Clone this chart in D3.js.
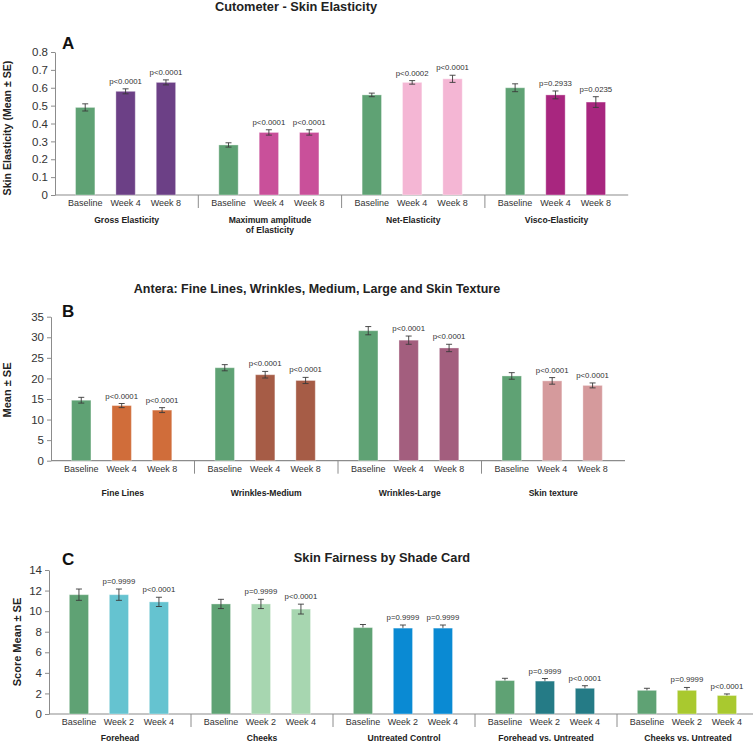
<!DOCTYPE html>
<html><head><meta charset="utf-8">
<script src="https://cdn.jsdelivr.net/npm/d3@7"></script>
<style>
body{margin:0;background:#fff;}
svg{display:block;font-family:"Liberation Sans",Arial,sans-serif;}
</style></head>
<body><svg id="chart" width="753" height="743"></svg>
<script>
// ---------- Panel A: Cutometer ----------
const aTitle = "Cutometer - Skin Elasticity";
const aYLabel = "Skin Elasticity (Mean ± SE)";
const aGroups = ["Gross Elasticity", "Maximum amplitude|of Elasticity", "Net-Elasticity", "Visco-Elasticity"];
const aTimes = ["Baseline", "Week 4", "Week 8"];
const aMeans = [[0.49, 0.58, 0.63], [0.28, 0.35, 0.35], [0.56, 0.63, 0.65], [0.60, 0.56, 0.52]];
const aSE = [[0.02, 0.014, 0.014], [0.012, 0.015, 0.015], [0.01, 0.01, 0.02], [0.022, 0.022, 0.03]];
const aP = [["", "p<0.0001", "p<0.0001"], ["", "p<0.0001", "p<0.0001"], ["", "p<0.0002", "p<0.0001"], ["", "p=0.2933", "p=0.0235"]];
const aTicks = [0, 0.1, 0.2, 0.3, 0.4, 0.5, 0.6, 0.7, 0.8];

// ---------- Panel B: Antera ----------
const bTitle = "Antera: Fine Lines, Wrinkles, Medium, Large and Skin Texture";
const bYLabel = "Mean ± SE";
const bGroups = ["Fine Lines", "Wrinkles-Medium", "Wrinkles-Large", "Skin texture"];
const bTimes = ["Baseline", "Week 4", "Week 8"];
const bMeans = [[14.7, 13.4, 12.3], [22.6, 20.9, 19.5], [31.6, 29.3, 27.4], [20.6, 19.4, 18.3]];
const bSE = [[0.7, 0.5, 0.6], [0.75, 0.8, 0.75], [1.0, 1.0, 0.9], [0.8, 0.8, 0.6]];
const bP = [["", "p<0.0001", "p<0.0001"], ["", "p<0.0001", "p<0.0001"], ["", "p<0.0001", "p<0.0001"], ["", "p<0.0001", "p<0.0001"]];
const bTicks = [0, 5, 10, 15, 20, 25, 30, 35];

// ---------- Panel C: Skin Fairness ----------
const cTitle = "Skin Fairness by Shade Card";
const cYLabel = "Score Mean ± SE";
const cGroups = ["Forehead", "Cheeks", "Untreated Control", "Forehead vs. Untreated", "Cheeks vs. Untreated"];
const cTimes = ["Baseline", "Week 2", "Week 4"];
const cMeans = [[11.6, 11.6, 10.9], [10.7, 10.7, 10.2], [8.4, 8.35, 8.35], [3.25, 3.2, 2.5], [2.3, 2.3, 1.8]];
const cSE = [[0.55, 0.55, 0.45], [0.45, 0.45, 0.48], [0.3, 0.3, 0.3], [0.22, 0.25, 0.25], [0.2, 0.28, 0.15]];
const cP = [["", "p=0.9999", "p<0.0001"], ["", "p=0.9999", "p<0.0001"], ["", "p=0.9999", "p=0.9999"], ["", "p=0.9999", "p<0.0001"], ["", "p=0.9999", "p<0.0001"]];
const cTicks = [0, 2, 4, 6, 8, 10, 12, 14];

// ---------- Styles ----------
const GREEN = "#5fa274";
const aColors = ["#6c4086", "#c9509a", "#f4b6d4", "#a8267f"];
const bColors = ["#d06d3a", "#a65c46", "#a35e7e", "#d59a9c"];
const cColors = ["#65c3d0", "#a7d6b0", "#0a8ad3", "#257b86", "#a9c92f"];

const svg = d3.select("#chart");

function panel(cfg) {
  const g = svg.append("g");
  const n = cfg.groups.length;
  const y = d3.scaleLinear().domain([0, cfg.ticks[cfg.ticks.length - 1]]).range([cfg.yBase, cfg.yTop]);
  const gx = d3.scaleBand().domain(d3.range(n)).range([cfg.x0, cfg.x0 + cfg.gw * n]);
  const ix = d3.scaleBand().domain(cfg.times).range([cfg.gw * 0.07, cfg.gw * 0.915]);
  const bw = ix.bandwidth() * 0.48;

  // title & letter
  g.append("text").attr("x", cfg.titleX).attr("y", cfg.titleY).attr("text-anchor", "middle")
    .attr("font-weight", "bold").attr("font-size", cfg.titleSize).attr("fill", "#222").text(cfg.title);
  g.append("text").attr("x", 62).attr("y", cfg.letterY).attr("font-weight", "bold")
    .attr("font-size", 17).attr("fill", "#111").text(cfg.letter);

  // y axis
  const ya = g.append("g").attr("transform", `translate(${cfg.x0},0)`)
    .call(d3.axisLeft(y).tickValues(cfg.ticks).tickSize(4).tickSizeOuter(0).tickPadding(3)
      .tickFormat(d => String(d)));
  ya.selectAll("path,line").attr("stroke", "#8c8c8c");
  ya.selectAll("text").attr("font-size", 11.5).attr("fill", "#333")
    .attr("font-family", "'Liberation Sans',Arial,sans-serif");

  // y label
  g.append("text").attr("transform", `translate(${cfg.yLabX},${cfg.yLabY}) rotate(-90)`)
    .attr("text-anchor", "middle").attr("dominant-baseline", "central")
    .attr("font-weight", "bold").attr("font-size", cfg.yLabSize).attr("fill", "#222").text(cfg.yLabel);

  // x axis line
  g.append("line").attr("x1", cfg.x0).attr("x2", Math.min(cfg.x0 + cfg.gw * n, 753))
    .attr("y1", y(0)).attr("y2", y(0)).attr("stroke", "#8c8c8c").attr("stroke-width", 1.2);

  // separators
  for (let i = 1; i < n; i++) {
    g.append("line").attr("x1", gx(i)).attr("x2", gx(i)).attr("y1", y(0)).attr("y2", y(0) + 13)
      .attr("stroke", "#8c8c8c").attr("stroke-width", 1);
  }

  cfg.groups.forEach((grp, gi) => {
    const gg = g.append("g").attr("transform", `translate(${gx(gi)},0)`);
    const behind = cfg.errBehind && cfg.errBehind[gi];
    const drawErr = (sel) => {
      cfg.times.forEach((t, ti) => {
        const cx = ix(t) + ix.bandwidth() / 2;
        const m = cfg.means[gi][ti], s = cfg.se[gi][ti];
        const e = sel.append("g").attr("stroke", "#3a3a3a").attr("stroke-width", 0.9);
        e.append("line").attr("x1", cx).attr("x2", cx).attr("y1", y(m - s)).attr("y2", y(m + s));
        e.append("line").attr("x1", cx - 3).attr("x2", cx + 3).attr("y1", y(m + s)).attr("y2", y(m + s));
        e.append("line").attr("x1", cx - 3).attr("x2", cx + 3).attr("y1", y(m - s)).attr("y2", y(m - s));
      });
    };
    if (behind) drawErr(gg);
    cfg.times.forEach((t, ti) => {
      const cx = ix(t) + ix.bandwidth() / 2;
      const m = cfg.means[gi][ti];
      gg.append("rect").attr("x", cx - bw / 2).attr("width", bw)
        .attr("y", y(m)).attr("height", y(0) - y(m))
        .attr("fill", ti === 0 ? GREEN : cfg.colors[gi])
        .attr("stroke", "rgba(255,255,255,0.35)").attr("stroke-width", 1);
    });
    if (!behind) drawErr(gg);
    cfg.times.forEach((t, ti) => {
      const cx = ix(t) + ix.bandwidth() / 2;
      const m = cfg.means[gi][ti], s = cfg.se[gi][ti];
      gg.append("text").attr("x", cx).attr("y", cfg.xLabY).attr("text-anchor", "middle")
        .attr("font-size", 9).attr("fill", "#333").text(t);
      if (cfg.p[gi][ti]) {
        gg.append("text").attr("x", cx).attr("y", y(m + s) - 5).attr("text-anchor", "middle")
          .attr("font-size", 7.8).attr("fill", "#333").text(cfg.p[gi][ti]);
      }
    });
    const lines = grp.split("|");
    lines.forEach((ln, li) => {
      gg.append("text").attr("x", cfg.gw * 0.5).attr("y", cfg.grpLabY + li * 9.5)
        .attr("text-anchor", "middle").attr("font-weight", "bold").attr("font-size", 8.6)
        .attr("fill", "#222").text(ln);
    });
  });
}

panel({title: aTitle, titleX: 296, titleY: 11, titleSize: 12.8, letter: "A", letterY: 49,
  yLabel: aYLabel, yLabX: 7, yLabY: 128, yLabSize: 10.6,
  groups: aGroups, times: aTimes, means: aMeans, se: aSE, p: aP, ticks: aTicks, colors: aColors,
  x0: 55, gw: 143.3, yBase: 195, yTop: 52, xLabY: 206, grpLabY: 223});

panel({title: bTitle, titleX: 317, titleY: 293, titleSize: 12.5, letter: "B", letterY: 316.5,
  yLabel: bYLabel, yLabX: 7, yLabY: 390, yLabSize: 11,
  groups: bGroups, times: bTimes, means: bMeans, se: bSE, p: bP, ticks: bTicks, colors: bColors,
  x0: 51, gw: 143.5, yBase: 460.7, yTop: 316.7, xLabY: 471.5, grpLabY: 496});

panel({title: cTitle, titleX: 382, titleY: 562, titleSize: 12.8, letter: "C", letterY: 565,
  yLabel: cYLabel, yLabX: 17, yLabY: 642, yLabSize: 11,
  groups: cGroups, times: cTimes, means: cMeans, se: cSE, p: cP, ticks: cTicks, colors: cColors,
  x0: 49, gw: 142, yBase: 714, yTop: 570, xLabY: 725, grpLabY: 741,
  errBehind: [false, false, true, true, true]});
</script>
</body></html>
